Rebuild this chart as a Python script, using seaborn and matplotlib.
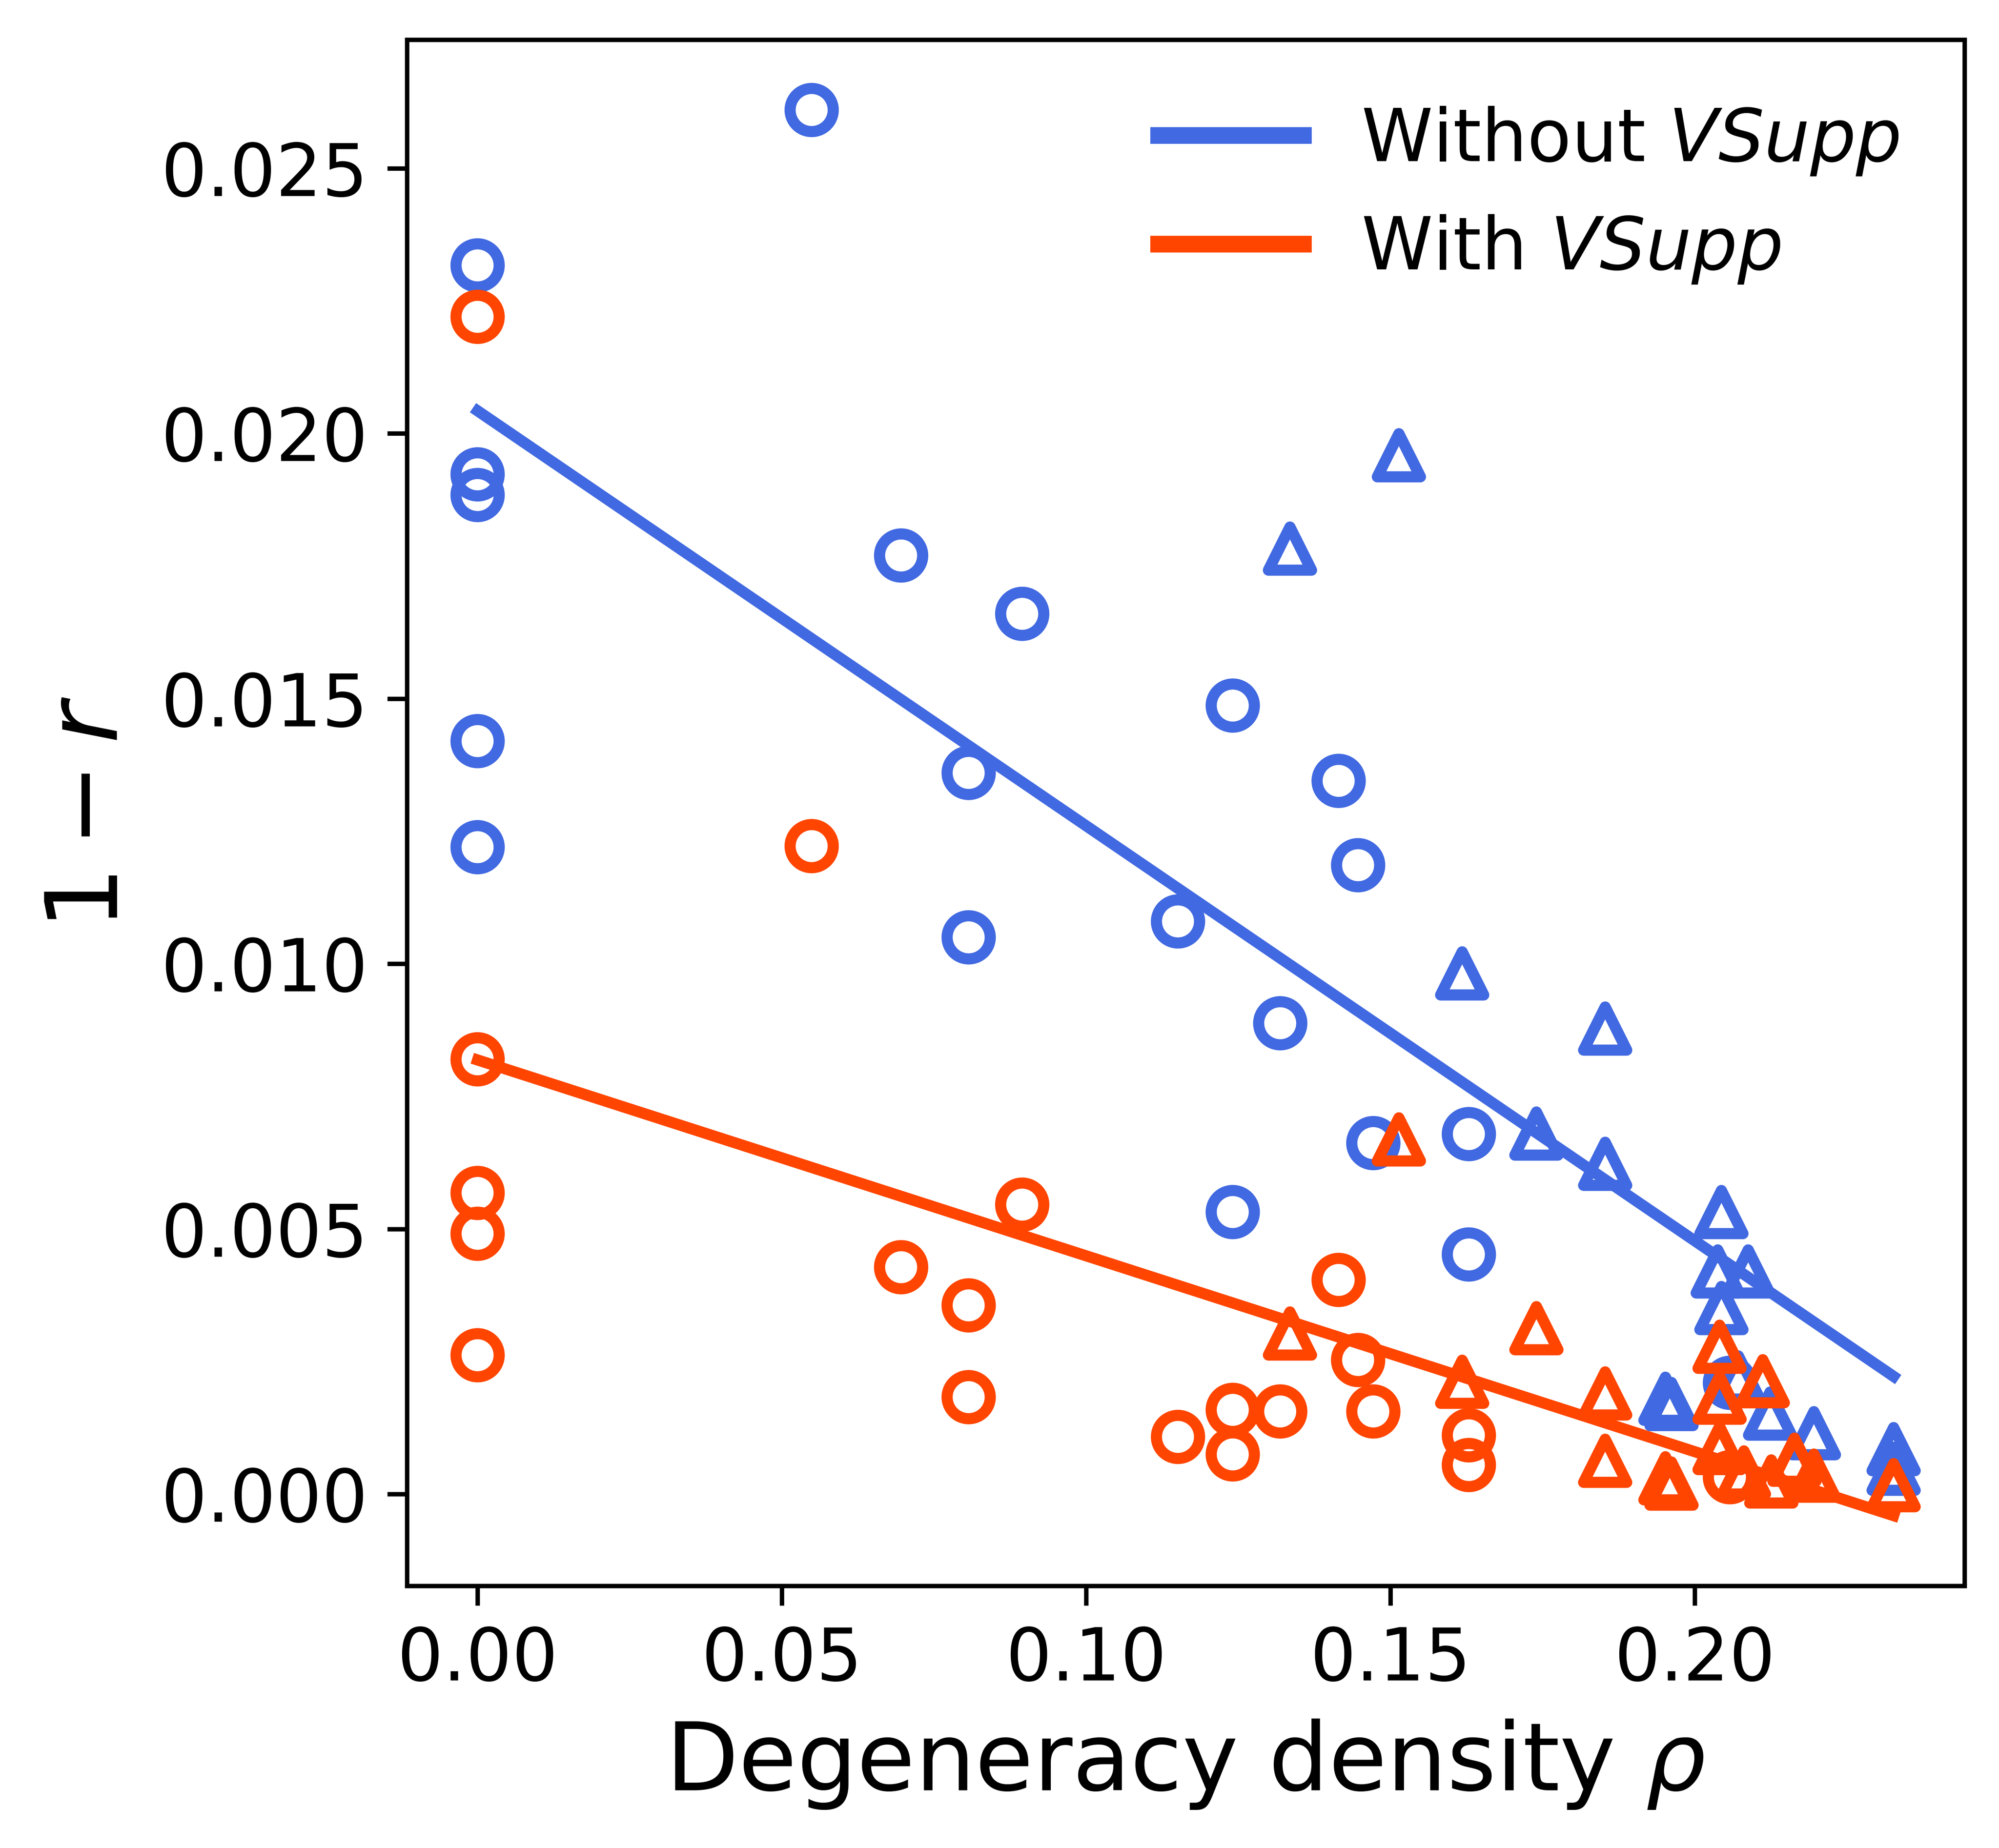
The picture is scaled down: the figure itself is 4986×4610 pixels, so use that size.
import numpy as np
import seaborn as sns
import matplotlib
matplotlib.use("Agg")
import matplotlib.pyplot as plt

# degeneracy density rho for each run, and 1 - r without / with VSupp
circle_rho = [0.0, 0.0, 0.0, 0.0, 0.0, 0.0549, 0.0696, 0.0807, 0.0807, 0.0895,
              0.1151, 0.1241, 0.1241, 0.1319, 0.1415, 0.1447, 0.1472, 0.1629,
              0.1629, 0.2058]
circle_without = [0.02317, 0.01923, 0.01884, 0.0142, 0.0122, 0.0261, 0.0177,
                  0.0136, 0.0105, 0.0166, 0.0108, 0.01487, 0.00532, 0.00888,
                  0.01345, 0.01186, 0.00662, 0.00679, 0.00452, 0.0021]
circle_with = [0.0222, 0.0082, 0.00568, 0.00491, 0.00262, 0.01222, 0.00428,
               0.00356, 0.00183, 0.00546, 0.00108, 0.00159, 0.00075, 0.00156,
               0.00404, 0.00253, 0.00156, 0.00111, 0.00055, 0.00032]

tri_rho_without = [0.1335, 0.1514, 0.1618, 0.1853, 0.174, 0.1853, 0.2044,
                   0.2038, 0.2088, 0.2044, 0.1952, 0.1962, 0.2072, 0.2124,
                   0.2196, 0.2327, 0.2327]
tri_without = [0.01783, 0.01959, 0.00982, 0.00878, 0.0068, 0.00623, 0.00532,
               0.0042, 0.0042, 0.00351, 0.0018, 0.0017, 0.0022, 0.00152,
               0.00115, 0.00085, 0.00048]
tri_rho_with = [0.1335, 0.1514, 0.1618, 0.174, 0.1853, 0.1853, 0.1952, 0.1962,
                0.2041, 0.2041, 0.2041, 0.2081, 0.2112, 0.2126, 0.2164, 0.2196,
                0.2327]
tri_with = [0.00303, 0.00669, 0.00212, 0.00313, 0.0019, 0.00063, 0.0003,
            0.0002, 0.00278, 0.00182, 0.00087, 0.00041, 0.00213, 0.00024,
            0.00065, 0.00035, 0.00017]

labels = ["Without $VSupp$", "With $VSupp$"]
colors = ["royalblue", "orangered"]


def main():
    fig = plt.figure(figsize=(4.986, 4.61), dpi=1000)
    ax = fig.add_axes([0.2035, 0.1418, 0.7792, 0.8367])

    series = [
        (circle_rho, circle_without, tri_rho_without, tri_without),
        (circle_rho, circle_with, tri_rho_with, tri_with),
    ]
    for (cx, cy, tx, ty), color in zip(series, colors):
        sns.scatterplot(x=cx, y=cy, marker="o", s=60, color=color,
                        facecolor="none", edgecolor=color, linewidth=2, ax=ax)
        sns.scatterplot(x=tx, y=ty, marker="^", s=60, color=color,
                        facecolor="none", edgecolor=color, linewidth=2, ax=ax)

    # linear fit over all points of each setting
    for (cx, cy, tx, ty), color, label in zip(series, colors, labels):
        xs = np.array(cx + tx)
        ys = np.array(cy + ty)
        sns.regplot(x=xs, y=ys, scatter=False, ci=None, color=color,
                    label=label, line_kws={"linewidth": 2}, ax=ax)

    ax.set_xlabel(r"Degeneracy density $\rho$", fontsize=17)
    ax.set_ylabel(r"$1 - r$", fontsize=18)
    ax.tick_params(labelsize=13)

    leg = ax.legend(loc="upper right", frameon=False, fontsize=13,
                    handlelength=2.0)
    for line in leg.get_lines():
        line.set_linewidth(3)

    fig.savefig("out.png", dpi=1000)


if __name__ == "__main__":
    main()
